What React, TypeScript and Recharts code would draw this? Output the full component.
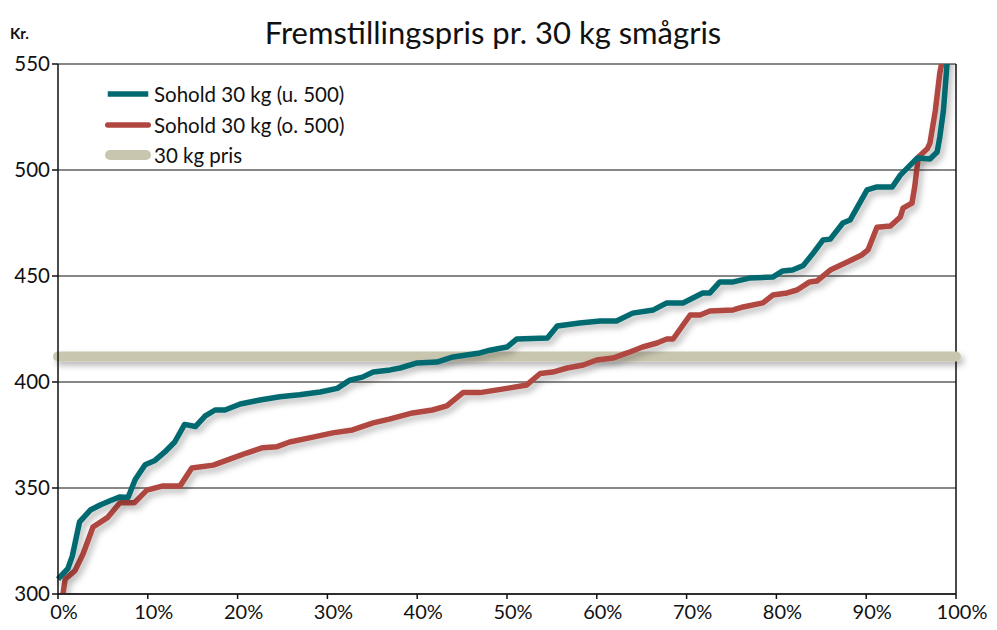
import React from 'react';
import { LineChart, Line, XAxis, YAxis, CartesianGrid, ReferenceLine } from 'recharts';

const title = 'Fremstillingspris pr. 30 kg smågris';
const unitLabel = 'Kr.';
const seriesNames = ['Sohold 30 kg (u. 500)', 'Sohold 30 kg (o. 500)', '30 kg pris'];
const seriesColors = ['#006A70', '#B0463F', '#C9C6AF'];

const xTicks = [0, 10, 20, 30, 40, 50, 60, 70, 80, 90, 100];
const yTicks = [300, 350, 400, 450, 500, 550];

const tealPct = [0, 1.1, 1.6, 2.4, 3.6, 4.7, 5.8, 6.9, 7.8, 8.6, 9.7, 10.8, 11.9, 13.0, 14.1, 15.3, 16.4, 17.5, 18.6, 20.3, 22.5, 24.7, 26.9, 29.2, 31.1, 32.5, 33.9, 35.1, 37.0, 38.1, 40.0, 42.2, 44.0, 47.0, 48.1, 50.0, 51.1, 54.5, 55.6, 58.1, 60.4, 62.2, 64.0, 66.3, 67.8, 69.6, 70.7, 71.8, 72.6, 73.7, 75.2, 77.0, 79.6, 80.7, 81.8, 83.0, 84.1, 85.2, 86.0, 87.4, 88.2, 90.1, 91.2, 92.9, 93.8, 95.7, 97.1, 97.9, 98.2, 98.6, 99.0, 99.3];
const tealVal = [307, 312, 318, 334, 339.6, 342, 344, 345.8, 345.5, 354, 361, 363, 367, 371.7, 380, 379, 384, 386.8, 386.8, 389.6, 391.5, 393, 394, 395.3, 397, 400.9, 402.3, 404.7, 405.7, 406.6, 409, 409.4, 411.8, 413.7, 415, 416.5, 420.3, 420.8, 426.4, 427.8, 428.8, 428.8, 432.5, 434, 437.3, 437.3, 439.6, 442, 442, 447.2, 447.2, 449, 449.5, 452.4, 452.8, 455, 460.8, 467, 467.4, 475, 476.4, 490.6, 492, 492, 497.6, 505.7, 505.2, 508.5, 515.6, 528, 550, 565];

const redPct = [0.3, 0.8, 1.9, 2.8, 3.9, 5.5, 6.9, 8.5, 9.9, 11.7, 13.6, 14.9, 17.3, 19.2, 21.0, 22.8, 24.4, 25.8, 28.4, 30.6, 32.8, 35.1, 36.9, 39.5, 41.7, 43.3, 45.1, 47.0, 50.0, 52.2, 53.7, 55.1, 56.7, 58.5, 60.0, 61.8, 63.4, 65.1, 66.7, 67.8, 68.5, 69.6, 70.4, 71.5, 72.6, 75.2, 76.3, 78.5, 79.6, 81.2, 82.3, 83.7, 84.5, 86.0, 87.9, 89.5, 90.2, 91.2, 92.7, 93.8, 94.1, 95.1, 95.4, 95.8, 96.8, 97.1, 97.7, 98.2, 98.4, 98.6];
const redVal = [293, 307, 311, 319, 331.6, 336, 343, 343, 349, 351, 351, 359.4, 360.8, 363.7, 366.5, 369, 369.5, 371.7, 374, 376, 377.4, 380.7, 382.5, 385.4, 386.8, 388.7, 395, 395, 397, 398.6, 404, 404.7, 406.6, 408, 410.4, 411.3, 413.7, 416.5, 418.4, 420.3, 420.3, 426.9, 431.6, 431.6, 433.5, 434, 435.4, 437.3, 441, 442, 443.4, 447.2, 447.6, 452.8, 456.6, 459.9, 462.3, 473, 473.6, 477.8, 482, 484.4, 492, 506, 510, 512.7, 528, 545.8, 550, 560];

const pricePct = [0, 100];
const priceVal = [412, 412];

const tealData = tealPct.map((p, i) => ({ x: p, v: tealVal[i] }));
const redData = redPct.map((p, i) => ({ x: p, v: redVal[i] }));
const priceData = pricePct.map((p, i) => ({ x: p, v: priceVal[i] }));

const FONT = 'Lato, "Open Sans", sans-serif';

const legendWidths = [5.5, 5.5, 10];

const LegendBox = () => (
  <div style={{ position: 'absolute', left: 104, top: 79, fontFamily: FONT, fontSize: 20.5, color: '#111' }}>
    {seriesNames.map((n, i) => (
      <div key={n} style={{ display: 'flex', alignItems: 'center', height: 30.5 }}>
        <svg width={50} height={12}>
          <line x1={legendWidths[i] / 2 + 1} y1={6} x2={47 - legendWidths[i] / 2} y2={6} stroke={seriesColors[i]} strokeWidth={legendWidths[i]} strokeLinecap={i === 0 ? 'butt' : 'round'} />
        </svg>
        <span>{n}</span>
      </div>
    ))}
  </div>
);

export default function App() {
  return (
    <div style={{ position: 'absolute', left: 0, top: 0, width: 997, height: 630, background: '#fff' }}>
      <div style={{ position: 'absolute', left: 0, top: 13, width: 986, textAlign: 'center', fontFamily: FONT, fontSize: 31, color: '#111' }}>{title}</div>
      <div style={{ position: 'absolute', left: 10, top: 24, fontFamily: FONT, fontSize: 15, fontWeight: 'bold', color: '#111' }}>{unitLabel}</div>
      <LineChart width={997} height={630} margin={{ top: 64, right: 41, left: 8, bottom: 6 }}>
        <defs>
          <filter id="shadow" filterUnits="userSpaceOnUse" x="0" y="0" width="997" height="630">
            <feDropShadow dx="3" dy="4" stdDeviation="3" floodColor="#000" floodOpacity="0.28" />
          </filter>
        </defs>
        <CartesianGrid vertical={false} stroke="#111" strokeWidth={1.2} />
        <XAxis
          dataKey="x"
          type="number"
          domain={[0, 100]}
          ticks={xTicks}
          tickFormatter={(v) => `${v}%`}
          height={30}
          tickSize={5}
          tickMargin={6}
          axisLine={{ stroke: '#111', strokeWidth: 1.5 }}
          tickLine={{ stroke: '#111', strokeWidth: 1.5 }}
          tick={{ fill: '#111', fontSize: 20, fontFamily: FONT, dx: 6 }}
        />
        <YAxis
          dataKey="v"
          type="number"
          domain={[300, 550]}
          ticks={yTicks}
          allowDataOverflow
          width={50}
          tickSize={6}
          tickMargin={2}
          axisLine={{ stroke: '#111', strokeWidth: 1.5 }}
          tickLine={{ stroke: '#111', strokeWidth: 1.5 }}
          tick={{ fill: '#111', fontSize: 20.5, fontFamily: FONT }}
        />
        <YAxis yAxisId="price" hide type="number" domain={[300, 550]} />
        <ReferenceLine x={100} stroke="#111" strokeWidth={1.5} />
        <Line yAxisId="price" data={priceData} dataKey="v" name={seriesNames[2]} stroke={seriesColors[2]} strokeWidth={10} strokeLinecap="round" dot={false} activeDot={false} isAnimationActive={false} filter="url(#shadow)" />
        <Line data={redData} dataKey="v" name={seriesNames[1]} stroke={seriesColors[1]} strokeWidth={5.5} strokeLinejoin="round" dot={false} activeDot={false} isAnimationActive={false} filter="url(#shadow)" />
        <Line data={tealData} dataKey="v" name={seriesNames[0]} stroke={seriesColors[0]} strokeWidth={5.5} strokeLinejoin="round" dot={false} activeDot={false} isAnimationActive={false} filter="url(#shadow)" />
      </LineChart>
      <LegendBox />
    </div>
  );
}
